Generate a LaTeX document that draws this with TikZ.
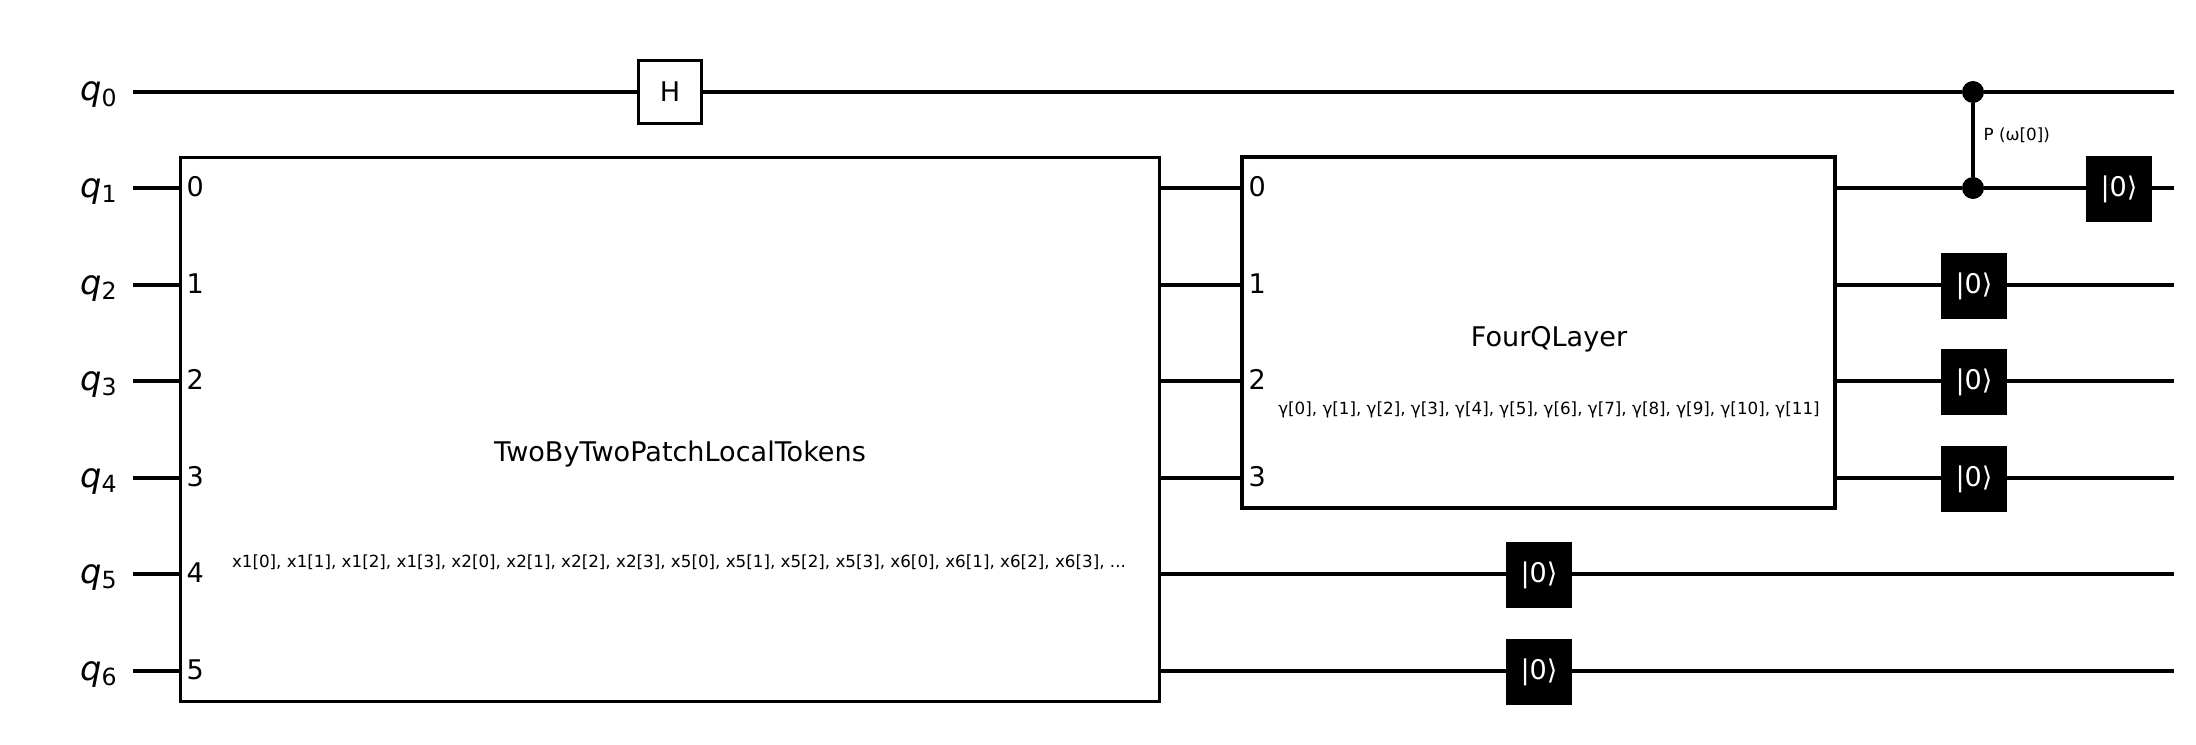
\documentclass[tikz,border=0pt]{standalone}
\usepackage{fontspec}
\setmainfont{DejaVu Sans}
\tikzset{
    wire/.style={line width=1.35pt, black},
    bigbox/.style={draw, line width=0.9pt, fill=white, inner sep=0, outer sep=0},
    hbox/.style={bigbox, minimum width=0.63cm, minimum height=0.63cm, font=\fontsize{7.7}{9}\selectfont},
    resetbox/.style={fill=black, text=white, inner sep=0, outer sep=0, minimum size=0.66cm, font=\fontsize{7.7}{9}\selectfont},
    ctrl/.style={circle, fill=black, inner sep=0, outer sep=0, minimum size=0.22cm},
    qlabel/.style={anchor=base east, inner sep=0, font=\fontsize{9.6}{12}\selectfont},
    portlabel/.style={anchor=west, inner sep=0, font=\fontsize{7.7}{9}\selectfont},
    titlelabel/.style={inner sep=0, font=\fontsize{7.7}{9}\selectfont},
    paramlabel/.style={inner sep=0, font=\fontsize{4.76}{6}\selectfont}
}
\begin{document}
\begin{tikzpicture}
        \useasboundingbox (0, 0) rectangle (21.96, 7.44);
        % wire ends
        \coordinate (s0) at (1.33, 6.52);
        \coordinate (s1) at (1.33, 5.56);
        \coordinate (s2) at (1.33, 4.59);
        \coordinate (s3) at (1.33, 3.63);
        \coordinate (s4) at (1.33, 2.66);
        \coordinate (s5) at (1.33, 1.70);
        \coordinate (s6) at (1.33, 0.73);
        \coordinate (e0) at (21.74, 6.52);
        \coordinate (e1) at (21.74, 5.56);
        \coordinate (e2) at (21.74, 4.59);
        \coordinate (e3) at (21.74, 3.63);
        \coordinate (e4) at (21.74, 2.66);
        \coordinate (e5) at (21.74, 1.70);
        \coordinate (e6) at (21.74, 0.73);
        % gates
        \node (tokens) at (6.70, 3.145) [bigbox, minimum width=9.79cm, minimum height=5.44cm] {};
        \node (fourq) at (15.385, 4.115) [bigbox, minimum width=5.93cm, minimum height=3.51cm] {};
        \node (hgate) at (6.70, 6.52) [hbox] {H};
        \node (c0) at (19.73, 6.52) [ctrl] {};
        \node (c1) at (19.73, 5.56) [ctrl] {};
        \node (r1) at (21.19, 5.55) [resetbox] {|0⟩};
        \node (r2) at (19.74, 4.58) [resetbox] {|0⟩};
        \node (r3) at (19.74, 3.62) [resetbox] {|0⟩};
        \node (r4) at (19.74, 2.65) [resetbox] {|0⟩};
        \node (r5) at (15.39, 1.69) [resetbox] {|0⟩};
        \node (r6) at (15.39, 0.72) [resetbox] {|0⟩};
        % wires
        \draw[wire] (s0) -- (hgate);
        \draw[wire] (hgate) -- (c0);
        \draw[wire] (c0) -- (e0);
        \draw[wire] (c0) -- (c1);
        \draw[wire] (s1) -- (s1 -| tokens.west);
        \draw[wire] (s2) -- (s2 -| tokens.west);
        \draw[wire] (s3) -- (s3 -| tokens.west);
        \draw[wire] (s4) -- (s4 -| tokens.west);
        \draw[wire] (s5) -- (s5 -| tokens.west);
        \draw[wire] (s6) -- (s6 -| tokens.west);
        \draw[wire] (s1 -| tokens.east) -- (s1 -| fourq.west);
        \draw[wire] (s2 -| tokens.east) -- (s2 -| fourq.west);
        \draw[wire] (s3 -| tokens.east) -- (s3 -| fourq.west);
        \draw[wire] (s4 -| tokens.east) -- (s4 -| fourq.west);
        \draw[wire] (s1 -| fourq.east) -- (c1);
        \draw[wire] (c1) -- (s1 -| r1.west);
        \draw[wire] (s1 -| r1.east) -- (e1);
        \draw[wire] (s2 -| fourq.east) -- (s2 -| r2.west);
        \draw[wire] (s2 -| r2.east) -- (e2);
        \draw[wire] (s3 -| fourq.east) -- (s3 -| r3.west);
        \draw[wire] (s3 -| r3.east) -- (e3);
        \draw[wire] (s4 -| fourq.east) -- (s4 -| r4.west);
        \draw[wire] (s4 -| r4.east) -- (e4);
        \draw[wire] (s5 -| tokens.east) -- (s5 -| r5.west);
        \draw[wire] (s5 -| r5.east) -- (e5);
        \draw[wire] (s6 -| tokens.east) -- (s6 -| r6.west);
        \draw[wire] (s6 -| r6.east) -- (e6);
        % labels
        \node (q0) at (1.19, 6.43) [qlabel] {\textit{q}\textsubscript{0}};
        \node (q1) at (1.19, 5.47) [qlabel] {\textit{q}\textsubscript{1}};
        \node (q2) at (1.19, 4.50) [qlabel] {\textit{q}\textsubscript{2}};
        \node (q3) at (1.19, 3.54) [qlabel] {\textit{q}\textsubscript{3}};
        \node (q4) at (1.19, 2.57) [qlabel] {\textit{q}\textsubscript{4}};
        \node (q5) at (1.19, 1.61) [qlabel] {\textit{q}\textsubscript{5}};
        \node (q6) at (1.19, 0.64) [qlabel] {\textit{q}\textsubscript{6}};
        \node (tp0) at (1.86, 5.575) [portlabel] {0};
        \node (tp1) at (1.86, 4.605) [portlabel] {1};
        \node (tp2) at (1.86, 3.645) [portlabel] {2};
        \node (tp3) at (1.86, 2.675) [portlabel] {3};
        \node (tp4) at (1.86, 1.715) [portlabel] {4};
        \node (tp5) at (1.86, 0.745) [portlabel] {5};
        \node (fp0) at (12.48, 5.575) [portlabel] {0};
        \node (fp1) at (12.48, 4.605) [portlabel] {1};
        \node (fp2) at (12.48, 3.645) [portlabel] {2};
        \node (fp3) at (12.48, 2.675) [portlabel] {3};
        \node (tokname) at (6.80, 2.90) [titlelabel] {TwoByTwoPatchLocalTokens};
        \node (tokparam) at (6.79, 1.82) [paramlabel] {x1[0], x1[1], x1[2], x1[3], x2[0], x2[1], x2[2], x2[3], x5[0], x5[1], x5[2], x5[3], x6[0], x6[1], x6[2], x6[3], ...};
        \node (fourname) at (15.49, 4.05) [titlelabel] {FourQLayer};
        \node (fourparam) at (15.49, 3.34) [paramlabel] {γ[0], γ[1], γ[2], γ[3], γ[4], γ[5], γ[6], γ[7], γ[8], γ[9], γ[10], γ[11]};
        \node (plabel) at (19.83, 6.09) [anchor=west, paramlabel] {P (ω[0])};
\end{tikzpicture}
\end{document}
